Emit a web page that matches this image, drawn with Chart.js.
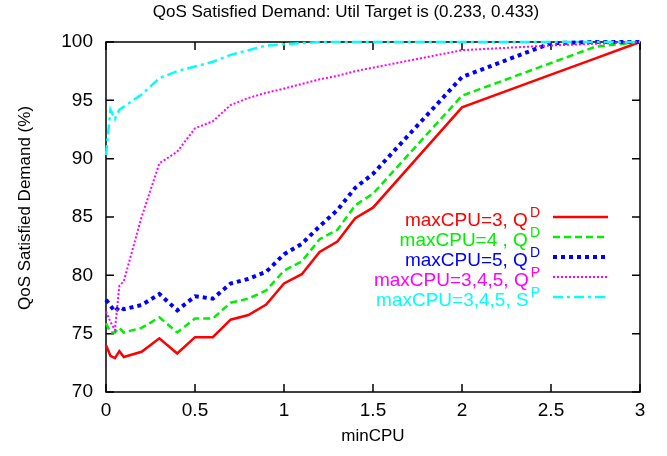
<!DOCTYPE html>
<html>
<head>
<meta charset="utf-8">
<script src="https://cdn.jsdelivr.net/npm/chart.js@4.4.1/dist/chart.umd.min.js"></script>
<style>
  body { margin: 0; background: #fff; }
  #wrap { width: 667px; height: 456px; }
</style>
</head>
<body>
<div id="wrap"><canvas id="qosChart" width="667" height="456"></canvas></div>
<script>
// minCPU sample points (x axis)
var minCPU = [0, 0.025, 0.05, 0.075, 0.1, 0.2, 0.3, 0.4, 0.5, 0.6, 0.7, 0.8, 0.9, 1.0, 1.1, 1.2, 1.3, 1.4, 1.5, 2.0, 2.5, 2.75, 3.0];

// QoS satisfied demand (%) per series
var max3QD   = [74.0, 73.1, 72.9, 73.5, 73.0, 73.45, 74.6, 73.3, 74.7, 74.7, 76.2, 76.6, 77.5, 79.3, 80.1, 82.0, 82.9, 84.9, 85.8, 94.4, 97.2, 98.6, 100];
var max4QD   = [75.9, 75.1, 75.1, 75.5, 75.1, 75.5, 76.4, 75.1, 76.3, 76.3, 77.65, 78.0, 78.7, 80.4, 81.2, 83.1, 83.9, 86.0, 87.0, 95.4, 98.2, 99.6, 100];
var max5QD   = [77.9, 77.4, 76.9, 77.3, 77.1, 77.45, 78.4, 77.0, 78.2, 78.0, 79.3, 79.7, 80.3, 81.8, 82.7, 84.2, 85.6, 87.5, 88.7, 97.0, 99.9, 100, 100];
var max345QP = [76.9, 76.0, 75.3, 79.1, 79.5, 85.0, 89.6, 90.6, 92.6, 93.2, 94.6, 95.2, 95.65, 96.0, 96.4, 96.8, 97.1, 97.5, 97.8, 99.3, 99.7, 99.85, 100];
var max345SP = [90.3, 94.2, 93.4, 94.2, 94.45, 95.5, 96.9, 97.5, 97.9, 98.3, 98.9, 99.3, 99.7, 99.8, 99.9, 100, 100, 100, 100, 100, 100, 100, 100];

var seriesLabels = ['maxCPU=3, Q', 'maxCPU=4 , Q', 'maxCPU=5, Q', 'maxCPU=3,4,5, Q', 'maxCPU=3,4,5, S'];
var seriesSup = ['D', 'D', 'D', 'P', 'P'];

var xTicks = [0, 0.5, 1, 1.5, 2, 2.5, 3];
var yTicks = [70, 75, 80, 85, 90, 95, 100];

var titleText = 'QoS Satisfied Demand: Util Target is (0.233, 0.433)';
var yTitleText = 'QoS Satisfied Demand (%)';

var FONT = '"Liberation Sans", Arial, Helvetica, sans-serif';

function pts(ys) {
    return minCPU.map(function (x, i) { return { x: x, y: ys[i] }; });
}

var styles = [
    { color: '#ff0000', width: 2.5, dash: [] },
    { color: '#00ee00', width: 2.5, dash: [7, 4] },
    { color: '#0000ff', width: 4, dash: [4, 4] },
    { color: '#ff00ff', width: 2, dash: [2, 2] },
    { color: '#00ffff', width: 2.5, dash: [10, 4, 3, 4] }
];
var allSeries = [max3QD, max4QD, max5QD, max345QP, max345SP];

// frame with inward ticks on all sides, titles, and a gnuplot style key
var framePlugin = {
    id: 'frame',
    beforeDatasetsDraw: function (chart) {
        var ctx = chart.ctx, a = chart.chartArea, xs = chart.scales.x, ys = chart.scales.y;
        ctx.save();
        ctx.strokeStyle = '#000';
        ctx.lineWidth = 1.5;
        ctx.strokeRect(a.left, a.top, a.right - a.left, a.bottom - a.top);
        ctx.beginPath();
        xTicks.forEach(function (v) {
            var px = xs.getPixelForValue(v);
            ctx.moveTo(px, a.bottom); ctx.lineTo(px, a.bottom - 8);
            ctx.moveTo(px, a.top); ctx.lineTo(px, a.top + 8);
        });
        yTicks.forEach(function (v) {
            var py = ys.getPixelForValue(v);
            ctx.moveTo(a.left, py); ctx.lineTo(a.left + 8, py);
            ctx.moveTo(a.right, py); ctx.lineTo(a.right - 8, py);
        });
        ctx.stroke();

        // titles
        ctx.fillStyle = '#000';
        ctx.font = '17px ' + FONT;
        ctx.textAlign = 'center';
        ctx.textBaseline = 'middle';
        ctx.fillText(titleText, (a.left + a.right) / 2 - 27, 12);
        ctx.save();
        ctx.translate(25, (a.top + a.bottom) / 2 - 9);
        ctx.rotate(-Math.PI / 2);
        ctx.fillText(yTitleText, 0, 0);
        ctx.restore();
        ctx.restore();
    },
    afterDatasetsDraw: function (chart) {
        var ctx = chart.ctx, a = chart.chartArea;
        var textRight = a.right - 100;
        var lineL = a.right - 87, lineR = a.right - 32;
        ctx.save();
        seriesLabels.forEach(function (lab, i) {
            var yc = a.top + 175 + i * 20;
            var st = styles[i];
            ctx.font = '14px ' + FONT;
            var supW = ctx.measureText(seriesSup[i]).width;
            ctx.fillStyle = st.color;
            ctx.textAlign = 'right';
            ctx.textBaseline = 'middle';
            ctx.fillText(seriesSup[i], textRight, yc - 4);
            ctx.font = '19px ' + FONT;
            ctx.fillText(lab, textRight - supW - 2, yc + 4);
            ctx.beginPath();
            ctx.strokeStyle = st.color;
            ctx.lineWidth = st.width;
            ctx.setLineDash(st.dash);
            ctx.moveTo(lineL, yc);
            ctx.lineTo(lineR, yc);
            ctx.stroke();
        });
        ctx.restore();
    }
};

Chart.defaults.color = '#000';
Chart.defaults.font.family = FONT;

var ctx = document.getElementById('qosChart').getContext('2d');
var qosChart = new Chart(ctx, {
    type: 'line',
    data: {
        datasets: allSeries.map(function (ys, i) {
            return {
                label: seriesLabels[i] + seriesSup[i],
                data: pts(ys),
                borderColor: styles[i].color,
                borderWidth: styles[i].width,
                borderDash: styles[i].dash,
                pointRadius: 0,
                tension: 0,
                fill: false,
                clip: false,
                order: 5 - i
            };
        })
    },
    options: {
        responsive: false,
        animation: false,
        layout: { padding: { left: 0, right: 27, top: 42, bottom: 0 } },
        plugins: {
            legend: { display: false },
            tooltip: { enabled: false },
            title: { display: false }
        },
        scales: {
            x: {
                type: 'linear',
                min: 0,
                max: 3,
                afterBuildTicks: function (s) { s.ticks = xTicks.map(function (v) { return { value: v }; }); },
                afterFit: function (s) { s.height = 64; },
                grid: { display: false, drawTicks: false },
                border: { display: false },
                ticks: { font: { size: 19 }, padding: 7, maxRotation: 0, callback: function (v) { return String(v); } },
                title: { display: true, text: 'minCPU', font: { size: 17 }, padding: { top: 0, bottom: 9 } }
            },
            y: {
                type: 'linear',
                min: 70,
                max: 100,
                afterBuildTicks: function (s) { s.ticks = yTicks.map(function (v) { return { value: v }; }); },
                afterFit: function (s) { s.width = 106; },
                grid: { display: false, drawTicks: false },
                border: { display: false },
                ticks: { font: { size: 19 }, padding: 13, callback: function (v) { return String(v); } }
            }
        }
    },
    plugins: [framePlugin]
});
</script>
</body>
</html>
